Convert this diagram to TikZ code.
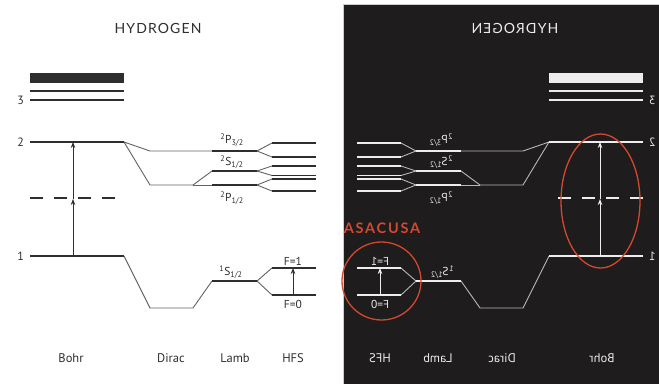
\documentclass[tikz,border=0pt]{standalone}
\usepackage{fontspec}
\setmainfont{PT Sans}
\newfontfamily\titlefont[LetterSpace=8]{Lato}
\newfontfamily\asafont[LetterSpace=12]{Lato}
\usetikzlibrary{arrows.meta}
\definecolor{panelBg}{RGB}{30,28,28}
\definecolor{asacusaRed}{RGB}{212,72,48}

\tikzset{
  bohrline/.style={line width=1.5pt},
  groundline/.style={line width=2.6pt},
  diracline/.style={line width=0.9pt, draw opacity=0.75},
  lambline/.style={line width=1.4pt},
  hfsline/.style={line width=1.2pt},
  levelarrow/.style={-{Stealth[length=6pt,width=4.5pt]}, line width=0.9pt},
  lvlnum/.style={font=\fontsize{12}{14}\selectfont, inner sep=0pt},
  termlbl/.style={font=\fontsize{11.5}{13}\selectfont, inner sep=0pt},
  modellbl/.style={font=\fontsize{12.5}{15}\selectfont, inner sep=0pt},
  hydrogen/.pic={
    % Title
    \node[font=\titlefont\fontsize{14}{16}\selectfont] (-title) at (158,28) {HYDROGEN};

    % Bohr levels
    \fill (30,73) rectangle (124,83);
    \draw[bohrline] (30,91) -- (124,91);
    \draw[bohrline] (30,100) coordinate (-b3) -- (124,100);
    \draw[bohrline] (30,142) coordinate (-b2) -- (124,142) coordinate (-b2e);
    \draw[groundline] (30,256) coordinate (-b1) -- (124,256) coordinate (-b1e);
    \draw[line width=1.5pt, dash pattern=on 13pt off 11pt] (30,198) -- (115,198);
    \node[lvlnum, left=6pt] (-n3) at (-b3) {3};
    \node[lvlnum, left=6pt] (-n2) at (-b2) {2};
    \node[lvlnum, left=6pt] (-n1) at (-b1) {1};

    % Bohr arrow, head also at the dashed level
    \coordinate (-a1) at (73,256);
    \coordinate (-am) at (73,199);
    \coordinate (-a2) at (73,142);
    \draw[levelarrow] (-a1) -- (-am);
    \draw[levelarrow] (-am) -- (-a2);

    % Dirac, n=2
    \draw[diracline] (-b2e) -- (150,151) -- (212,151) coordinate (-p32);
    \draw[diracline] (-b2e) -- (150,185) -- (193,185) coordinate (-dl);
    \draw[diracline] (-dl) -- (212,171) coordinate (-s12);
    \draw[diracline] (-dl) -- (212,185) coordinate (-p12);
    % Dirac, n=1
    \draw[diracline] (-b1e) -- (150,308) -- (193,308) -- (212,281) coordinate (-s1);

    % Lamb
    \draw[lambline] (-p32) -- (257,151) coordinate (-p32e);
    \draw[lambline] (-s12) -- (257,171) coordinate (-s12e);
    \draw[lambline] (-p12) -- (257,185) coordinate (-p12e);
    \draw[groundline, line width=2pt] (-s1) -- (257,281) coordinate (-s1e);

    % HFS splitting
    \foreach \lvl/\up/\dn in {p32e/143/157, s12e/166/175.5, p12e/179/191, s1e/268/295} {
      \draw[diracline] (-\lvl) -- (272,\up);
      \draw[diracline] (-\lvl) -- (272,\dn);
      \draw[hfsline] (272,\up) -- (316,\up);
      \draw[hfsline] (272,\dn) -- (316,\dn);
    }
    \draw[levelarrow] (293,295) coordinate (-f0) -- (293,268) coordinate (-f1);

    % Term labels
    \node[termlbl] (-lp32) at (232,140) {\textsuperscript{2}P\textsubscript{3/2}};
    \node[termlbl] (-ls12) at (232,162) {\textsuperscript{2}S\textsubscript{1/2}};
    \node[termlbl] (-lp12) at (232,198) {\textsuperscript{2}P\textsubscript{1/2}};
    \node[termlbl] (-ls1) at (231,272) {\textsuperscript{1}S\textsubscript{1/2}};
    \node[termlbl] (-lf1) at (293,261) {F=1};
    \node[termlbl] (-lf0) at (293,304) {F=0};

    % Model labels
    \foreach \name/\x in {Bohr/71, Dirac/171, Lamb/235, HFS/293} {
      \node[modellbl] (-m\name) at (\x,358) {\name};
    }
  }
}

\begin{document}
\begin{tikzpicture}[x=1pt, y=-1pt]
  \useasboundingbox (0,0) rectangle (659,384);

  % dark panel on the right
  \fill[panelBg] (343,4) rectangle (659,384);
  \draw[gray!40, line width=1pt] (343,384) -- (343,4) -- (659,4);

  % normal and mirrored diagram
  \pic[color=black!82] (L) {hydrogen};
  \begin{scope}[shift={(673,0)}, xscale=-1, transform shape]
    \pic[color=white!93!black] (R) {hydrogen};
  \end{scope}

  % ASACUSA highlights
  \draw[asacusaRed, line width=1.3pt] (600.5,201) ellipse [x radius=39.5pt, y radius=67pt];
  \draw[asacusaRed, line width=1.3pt] (381.5,281) ellipse [x radius=39.5pt, y radius=39pt];
  \node[asacusaRed, font=\asafont\bfseries\fontsize{14.5}{16}\selectfont] (asacusa) at (382,228.5) {ASACUSA};
\end{tikzpicture}
\end{document}
